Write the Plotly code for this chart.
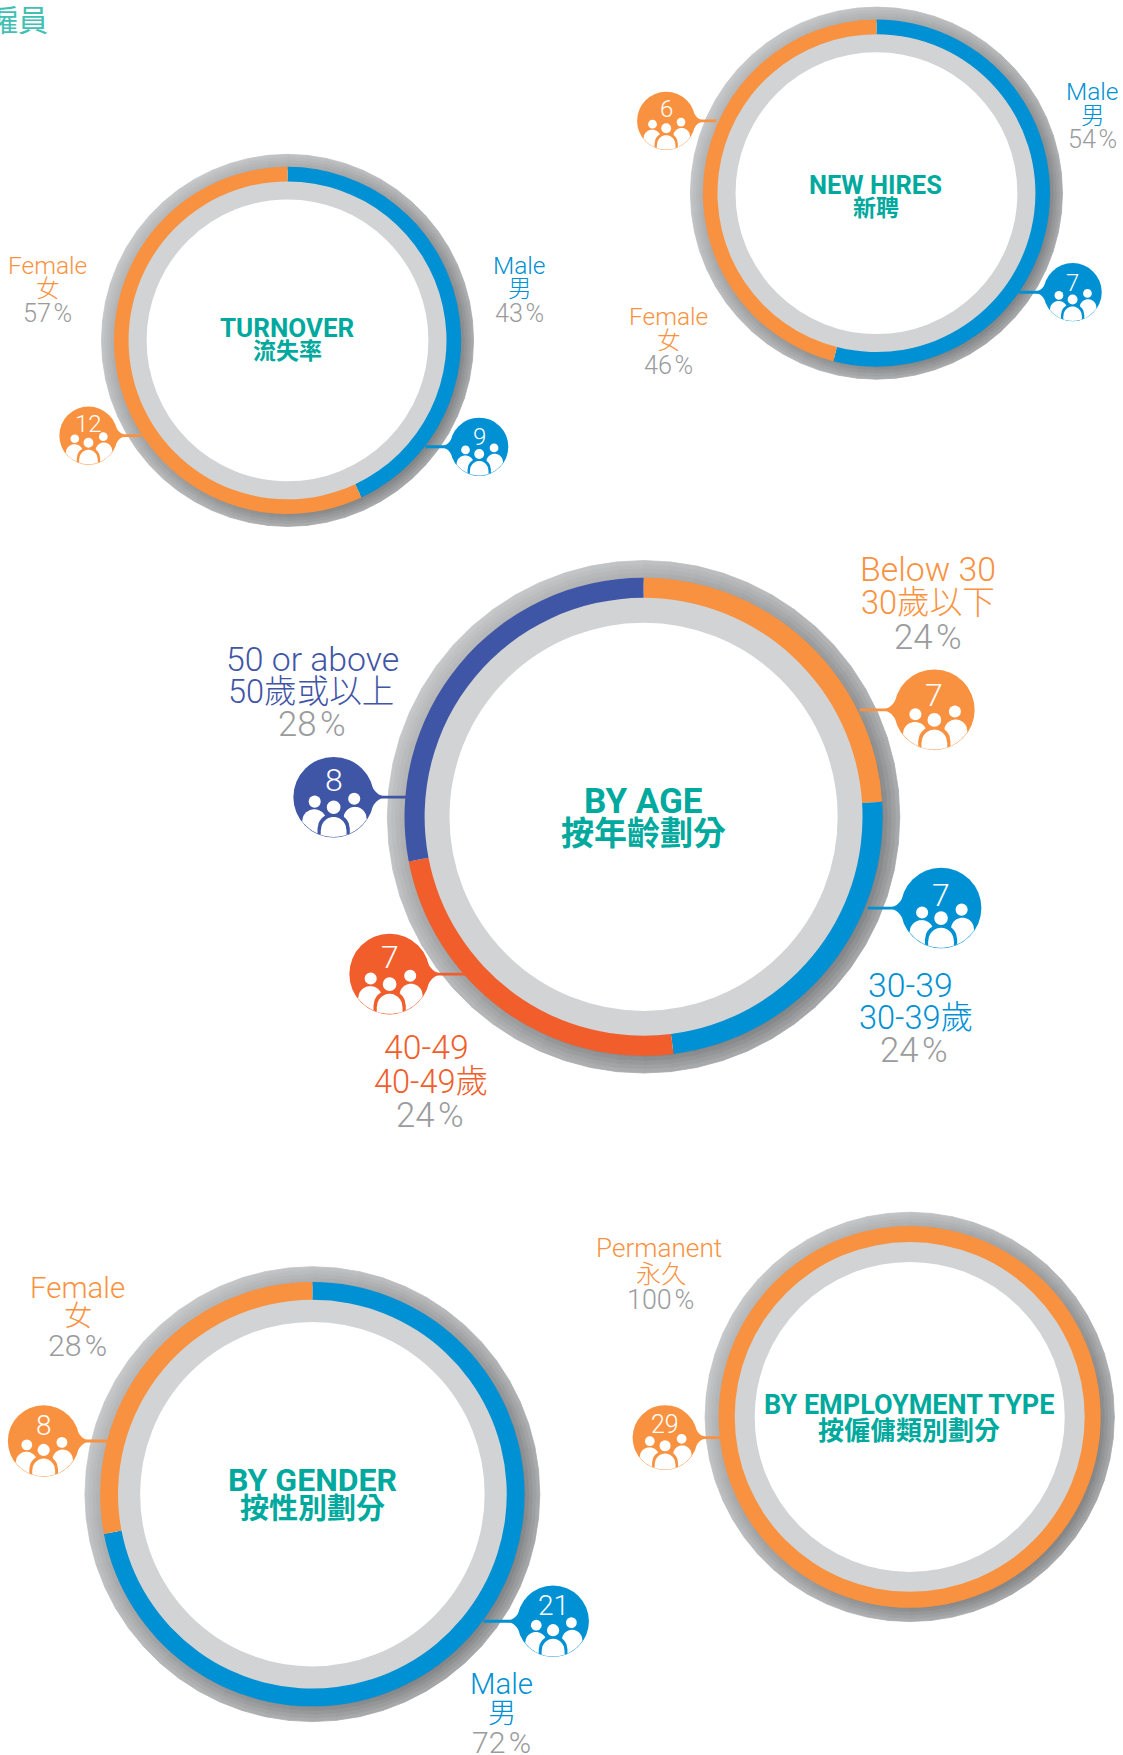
import math
import plotly.graph_objects as go

W, H = 1123, 1755
S = 1123 / 1003  # layout notes below were measured on the 1003-wide view

# ---------- data ----------
turnover_labels = ["Male", "Female"]
turnover_labels_zh = ["男", "女"]
turnover_pct = [43, 57]
turnover_count = [9, 12]

hires_labels = ["Male", "Female"]
hires_labels_zh = ["男", "女"]
hires_pct = [54, 46]
hires_count = [7, 6]

age_labels = ["Below 30", "30-39", "40-49", "50 or above"]
age_labels_zh = ["30歲以下", "30-39歲", "40-49歲", "50歲或以上"]
age_pct = [24, 24, 24, 28]
age_count = [7, 7, 7, 8]

gender_labels = ["Male", "Female"]
gender_labels_zh = ["男", "女"]
gender_pct = [72, 28]
gender_count = [21, 8]

type_labels = ["Permanent"]
type_labels_zh = ["永久"]
type_pct = [100]
type_count = [29]

# ---------- styles ----------
ORANGE, BLUE, NAVY, RED = "#f99240", "#0090d4", "#3f55a5", "#f15d2b"
TEAL, GREY, PCT = "#00a99d", "#d1d3d4", "#9a9b9d"
LATIN = "Roboto, 'Noto Sans CJK TC', sans-serif"

fig = go.Figure()
shapes, annos = [], []


def px(v):
    return v * S


def text(x, y, s, size, color, weight=300, anchor="center"):
    annos.append(dict(x=px(x), y=px(y), xref="x", yref="y", text=s, showarrow=False,
                      xanchor=anchor, yanchor="middle",
                      font=dict(family=LATIN, size=size, color=color, weight=weight)))


def shade(cx, cy, r_out, r_in, n=60, layers=5):
    for k in range(layers):
        t0, t1 = k / layers, (k + 1) / layers
        ro, ri = r_out + (r_in - r_out) * t0, r_out + (r_in - r_out) * t1
        t = (k + 0.5) / layers
        for i in range(n):
            a0, a1 = 2 * math.pi * i / n, 2 * math.pi * (i + 1) / n
            mid = (a0 + a1) / 2
            d = 0.5 * (1 + math.cos(mid - math.radians(130)))
            outer, inner = 200 - 32 * d, 176 - 58 * d
            v = int(outer + (inner - outer) * t)
            col = f"rgb({v},{v + 2},{v + 4})"
            pts = [(ro, a0), (ro, a1), (ri, a1), (ri, a0)]
            path = "M" + " L".join(f"{cx + q * math.sin(a):.2f},{cy - q * math.cos(a):.2f}" for q, a in pts) + " Z"
            shapes.append(dict(type="path", path=path, xref="x", yref="y", layer="below",
                               fillcolor=col, line=dict(color=col, width=0.8)))


def dome(c, cx, cy, R, dx, a, top, h=0.42, rc=0.985):
    """White figure body: rounded top, straight sides, clipped by the bubble circle."""
    upper, lower = [], []
    for i in range(31):
        u = -1 + 2 * i / 30
        x = dx + a * u
        yt = top + h * (1 - math.sqrt(max(0, 1 - u * u)))
        if abs(x) >= rc:
            continue
        yb = math.sqrt(rc * rc - x * x)
        if yb <= yt:
            continue
        upper.append((x, yt))
        lower.append((x, yb))
    pts = upper + lower[::-1]
    path = "M" + " L".join(f"{cx + p * R:.2f},{cy + q * R:.2f}" for p, q in pts) + " Z"
    shapes.append(dict(type="path", path=path, xref="x", yref="y", layer="above",
                       fillcolor=c, line=dict(width=0)))


def circle(cx, cy, r, col):
    shapes.append(dict(type="circle", xref="x", yref="y", layer="above", x0=cx - r, x1=cx + r,
                       y0=cy - r, y1=cy + r, fillcolor=col, line=dict(width=0)))


def bubble(x, y, r, stem_x, col, n, num_dy, num_size):
    cx, cy, R, tx = px(x), px(y), px(r), px(stem_x)
    s = 1 if tx > cx else -1
    th = 1.4
    ca, sa = math.cos(math.radians(38)) * R, math.sin(math.radians(38)) * R
    neck = R * 1.22
    path = (f"M{cx + s * ca:.2f},{cy - sa:.2f} Q{cx + s * R * 1.0:.2f},{cy - th:.2f} {cx + s * neck:.2f},{cy - th:.2f} "
            f"L{tx:.2f},{cy - th:.2f} L{tx:.2f},{cy + th:.2f} L{cx + s * neck:.2f},{cy + th:.2f} "
            f"Q{cx + s * R * 1.0:.2f},{cy + th:.2f} {cx + s * ca:.2f},{cy + sa:.2f} Z")
    shapes.append(dict(type="path", path=path, xref="x", yref="y", layer="above",
                       fillcolor=col, line=dict(width=0)))
    circle(cx, cy, R, col)
    circle(cx - 0.47 * R, cy + 0.11 * R, 0.15 * R, "white")
    circle(cx + 0.51 * R, cy + 0.04 * R, 0.15 * R, "white")
    dome("white", cx, cy, R, -0.48, 0.30, 0.30, 0.30)
    dome("white", cx, cy, R, 0.53, 0.29, 0.24, 0.30)
    dome(col, cx, cy, R, 0.0, 0.40, 0.40, 0.38)
    dome("white", cx, cy, R, 0.0, 0.32, 0.49, 0.34)
    circle(cx, cy + 0.25 * R, 0.17 * R, "white")
    text(x, y + num_dy, str(n), num_size, "white")


def ring(cx, cy, r, values, colors, names):
    CX, CY, Rc = px(cx), px(cy), px(r)
    shade(CX, CY, Rc * 1.072, Rc * 0.985)
    ri = Rc * 0.812
    ro = Rc * 0.93
    mid = (ri + ro) / 2
    wd = ro - ri
    shapes.append(dict(type="circle", xref="x", yref="y", layer="below", x0=CX - mid, x1=CX + mid,
                       y0=CY - mid, y1=CY + mid, fillcolor="white", line=dict(color=GREY, width=wd)))
    fig.add_trace(go.Pie(values=values, labels=names, sort=False, direction="clockwise", rotation=0,
                         hole=0.916, textinfo="none", hoverinfo="skip", showlegend=False,
                         marker=dict(colors=colors, line=dict(width=0)),
                         domain=dict(x=[(CX - Rc) / W, (CX + Rc) / W],
                                     y=[1 - (CY + Rc) / H, 1 - (CY - Rc) / H])))


def label(x, y0, gap, en, zh, pct, col, size, en_dx=0, zh_dx=0):
    text(x + en_dx, y0, en, size * 1.09, col)
    text(x + zh_dx, y0 + gap, zh, size * 1.05, col)
    text(x, y0 + 2 * gap, f"{pct}\u200a%", size * 1.12, PCT)


# ---------- header ----------
text(44.5, 18, "僱員", 30, "#3fc0b2", 400, "right")

# ---------- turnover ----------
ring(256.8, 304, 155, turnover_pct, [BLUE, ORANGE], turnover_labels)
text(257, 293, "TURNOVER", 26, TEAL, 700)
text(257, 314, "流失率", 23, TEAL, 700)
label(464, 237, 21.5, turnover_labels[0], turnover_labels_zh[0], turnover_pct[0], BLUE, 22.5)
label(42.5, 237, 21.5, turnover_labels[1], turnover_labels_zh[1], turnover_pct[1], ORANGE, 22.5)
bubble(428, 399, 26, 380, BLUE, turnover_count[0], -9, 24)
bubble(79, 389, 26, 127, ORANGE, turnover_count[1], -10, 24)

# ---------- new hires ----------
ring(782.8, 172.5, 155, hires_pct, [BLUE, ORANGE], hires_labels)
text(782, 165, "NEW HIRES", 25.5, TEAL, 700)
text(782, 186, "新聘", 23, TEAL, 700)
label(976, 82, 21.5, hires_labels[0], hires_labels_zh[0], hires_pct[0], BLUE, 22.5)
label(597.5, 283, 21.5, hires_labels[1], hires_labels_zh[1], hires_pct[1], ORANGE, 22.5)
bubble(958, 261, 26, 910, BLUE, hires_count[0], -8, 24)
bubble(595, 108, 26, 640, ORANGE, hires_count[1], -11, 24)

# ---------- by age ----------
ring(574.8, 729.5, 213.5, age_pct, [ORANGE, BLUE, RED, NAVY], age_labels)
text(575, 716, "BY AGE", 35, TEAL, 700)
text(575, 744, "按年齡劃分", 33, TEAL, 700)
label(829, 509, 30, age_labels[0], age_labels_zh[0], age_pct[0], ORANGE, 31)
label(816, 880, 29, age_labels[1], age_labels_zh[1], age_pct[1], BLUE, 31, -3, 2)
label(384, 936, 30, age_labels[2], age_labels_zh[2], age_pct[2], RED, 31, -3, 1)
label(279, 589, 29, age_labels[3], age_labels_zh[3], age_pct[3], NAVY, 31, 0, -1)
bubble(834.5, 634, 36, 768, ORANGE, age_count[0], -13, 32)
bubble(840.5, 811, 36, 775, BLUE, age_count[1], -12, 32)
bubble(348, 870, 36, 418, RED, age_count[2], -15, 32)
bubble(298, 712, 36, 365, NAVY, age_count[3], -15, 32)

# ---------- by gender ----------
ring(279, 1334.5, 189.5, gender_pct, [BLUE, ORANGE], gender_labels)
text(279, 1322, "BY GENDER", 32, TEAL, 700)
text(279, 1348, "按性別劃分", 29, TEAL, 700)
label(448, 1504, 26, gender_labels[0], gender_labels_zh[0], gender_pct[0], BLUE, 27)
label(69.5, 1150, 26, gender_labels[1], gender_labels_zh[1], gender_pct[1], ORANGE, 27)
bubble(494, 1448, 32, 432, BLUE, gender_count[0], -14, 28)
bubble(39, 1287, 32, 98, ORANGE, gender_count[1], -14, 28)

# ---------- by employment type ----------
ring(812.5, 1265.5, 170.5, type_pct, [ORANGE], type_labels)
text(812, 1255, "BY EMPLOYMENT TYPE", 27, TEAL, 700)
text(812, 1278, "按僱傭類別劃分", 26, TEAL, 700)
label(590, 1115, 23, type_labels[0], type_labels_zh[0], type_pct[0], ORANGE, 24, -1, 0)
bubble(594, 1284, 29, 645, ORANGE, type_count[0], -12, 25)

fig.update_layout(
    width=W, height=H, margin=dict(l=0, r=0, t=0, b=0),
    paper_bgcolor="white", plot_bgcolor="white", showlegend=False,
    xaxis=dict(range=[0, W], visible=False, fixedrange=True),
    yaxis=dict(range=[H, 0], visible=False, fixedrange=True),
    shapes=shapes, annotations=annos,
)
fig.write_html("out.html", config={"displayModeBar": False, "responsive": False},
               post_script="document.body.style.margin='0';document.documentElement.style.overflow='hidden';")
